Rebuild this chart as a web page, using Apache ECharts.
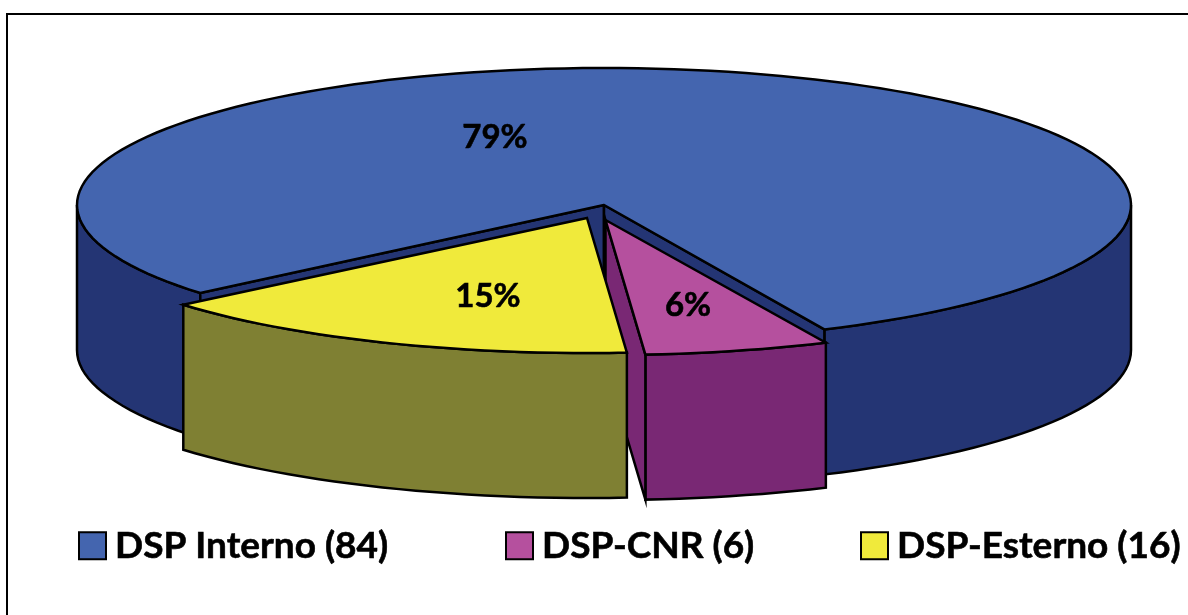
<!DOCTYPE html>
<html>
<head>
<meta charset="utf-8">
<style>
  html, body { margin: 0; background: #fff; }
  #chart { width: 1188px; height: 615px; }
</style>
<script src="https://cdn.jsdelivr.net/npm/echarts@6/dist/echarts.min.js"></script>
</head>
<body>
<div id="chart"></div>
<script>
// Data
const categorie = ['DSP Interno', 'DSP-CNR', 'DSP-Esterno'];
const valori = [84, 6, 16];

// Colours
const coloriTop = ['#4465AF', '#B5509E', '#F0EA3B'];
const coloriLato = ['#243574', '#792874', '#7F8033'];

// 3D pie geometry (pixels), the slice shapes come from the values
const FIRST_ANGLE = 140; // degrees clockwise from east
const RX = 527;
const DEPTH = 145;
const centri = [[604, 205], [605.5, 220], [587, 218]];
const raggiY = [137, 135, 135];
const posLabel = [[495, 137], [688, 305], [488, 296]];
const legendLeft = [78, 505, 860];

const FONT = 'Lato, "Open Sans", sans-serif';
const totale = valori.reduce((a, b) => a + b, 0);

function rim(i, deg, dy) {
  const t = deg * Math.PI / 180;
  return [
    centri[i][0] + RX * Math.cos(t),
    centri[i][1] + raggiY[i] * Math.sin(t) + (dy || 0)
  ];
}

function arco(i, from, to, dy) {
  const pts = [];
  const n = Math.max(2, Math.ceil(Math.abs(to - from) / 2));
  for (let k = 0; k <= n; k++) {
    pts.push(rim(i, from + (to - from) * k / n, dy));
  }
  return pts;
}

function forma(points, fill) {
  return {
    type: 'polygon',
    shape: { points },
    style: { fill, stroke: '#000', lineWidth: 2.5, lineJoin: 'miter' }
  };
}

// One slice: outer wall, visible cut faces, top, label
function fetta(i) {
  let inizio = FIRST_ANGLE;
  for (let k = 0; k < i; k++) inizio += valori[k] / totale * 360;
  const fine = inizio + valori[i] / totale * 360;
  const c = centri[i];
  const lato = coloriLato[i];
  const children = [];

  // Outer wall: only the parts of the rim facing the viewer (sin > 0)
  [[0, 180], [360, 540]].forEach(r => {
    const a = Math.max(inizio, r[0]);
    const b = Math.min(fine, r[1]);
    if (b > a) {
      children.push(forma(arco(i, a, b).concat(arco(i, b, a, DEPTH)), lato));
    }
  });

  // Cut faces
  if (Math.cos(inizio * Math.PI / 180) < 0) {
    const p = rim(i, inizio);
    children.push(forma([c, p, [p[0], p[1] + DEPTH], [c[0], c[1] + DEPTH]], lato));
  }
  if (Math.cos(fine * Math.PI / 180) > 0) {
    const p = rim(i, fine);
    children.push(forma([c, p, [p[0], p[1] + DEPTH], [c[0], c[1] + DEPTH]], lato));
  }

  // Top
  children.push(forma([c].concat(arco(i, inizio, fine)), coloriTop[i]));

  children.push({
    type: 'text',
    style: {
      text: Math.round(valori[i] / totale * 100) + '%',
      x: posLabel[i][0],
      y: posLabel[i][1],
      align: 'center',
      verticalAlign: 'middle',
      fill: '#000',
      stroke: '#000',
      lineWidth: 0.6,
      font: 'bold 33px ' + FONT
    }
  });

  return { type: 'group', children };
}

const myChart = echarts.init(document.getElementById('chart'), null, { renderer: 'canvas' });

const nomi = categorie.map((c, i) => c + ' (' + valori[i] + ')');

myChart.setOption({
  animation: false,
  backgroundColor: '#fff',
  graphic: [{
    type: 'rect',
    shape: { x: 7, y: 14, width: 1400, height: 800 },
    style: { fill: 'none', stroke: '#000', lineWidth: 2 },
    silent: true
  }],
  legend: nomi.map((n, i) => ({
    left: legendLeft[i],
    top: 527,
    padding: 0,
    itemWidth: 27,
    itemHeight: 27,
    selectedMode: false,
    textStyle: {
      fontFamily: FONT,
      fontWeight: 'bold',
      fontSize: 37,
      color: '#000',
      textBorderColor: '#000',
      textBorderWidth: 0.6,
      padding: [0, 0, 0, 4]
    },
    data: [{
      name: n,
      icon: 'rect',
      itemStyle: { color: coloriTop[i], borderColor: '#000', borderWidth: 2 }
    }]
  })),
  series: nomi.map((n, i) => ({
    type: 'custom',
    name: n,
    coordinateSystem: 'none',
    silent: true,
    itemStyle: { color: coloriTop[i] },
    data: [valori[i]],
    renderItem: () => fetta(i)
  }))
});

window.addEventListener('resize', () => myChart.resize());
</script>
</body>
</html>
